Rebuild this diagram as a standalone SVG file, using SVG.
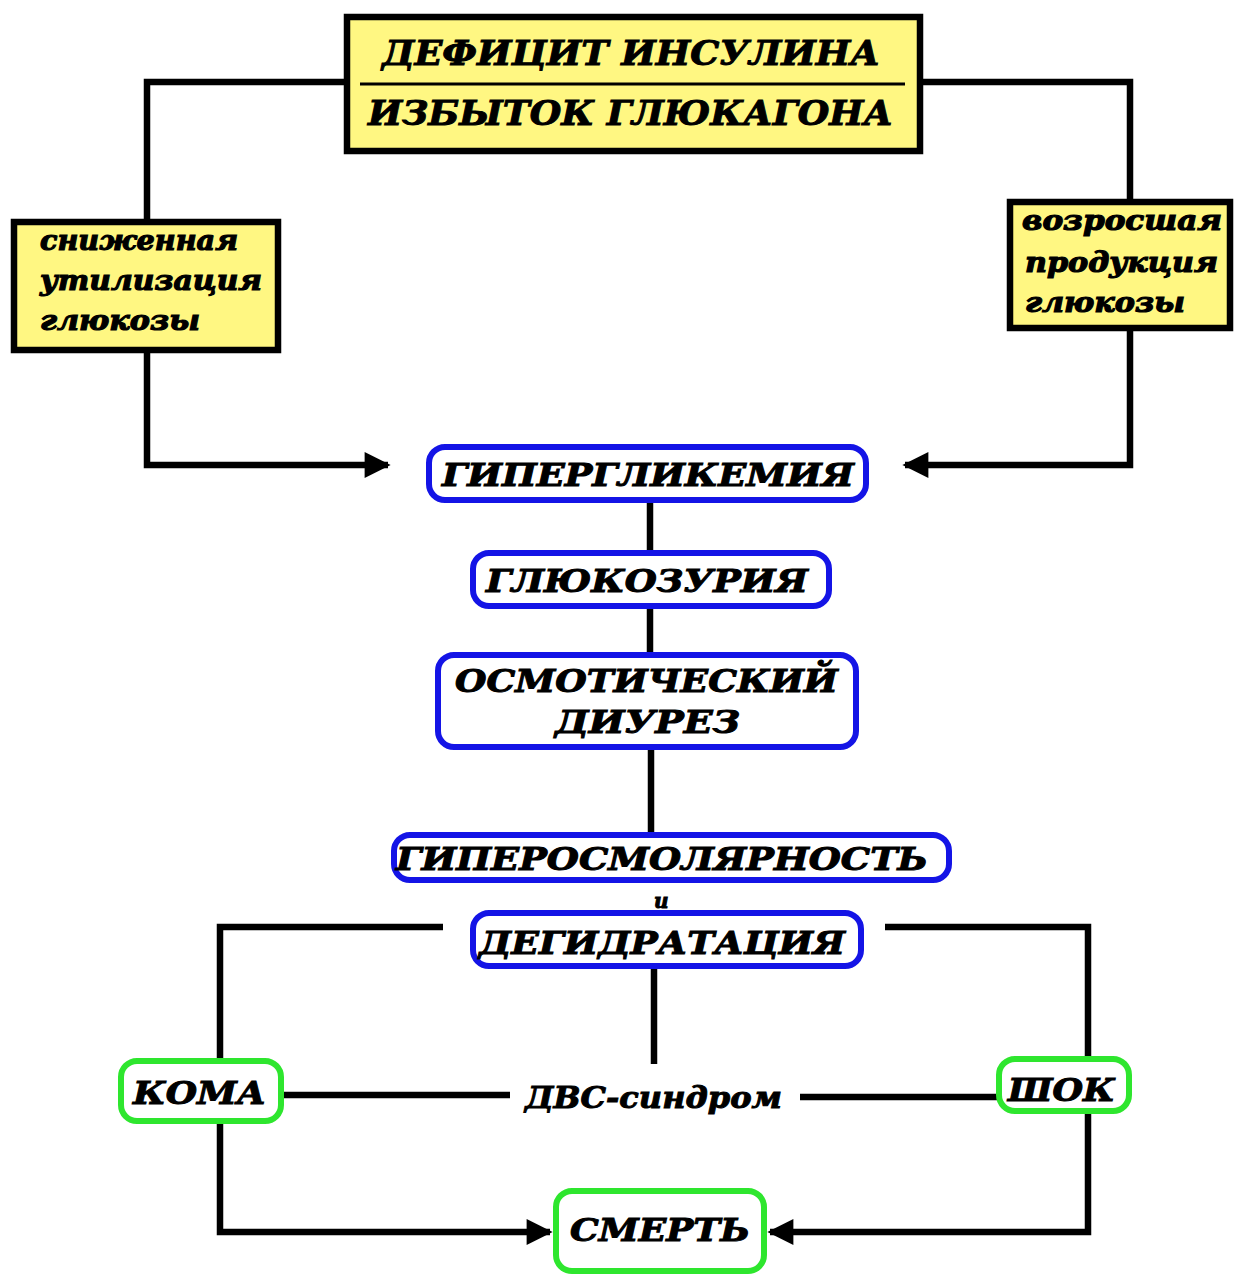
<svg xmlns="http://www.w3.org/2000/svg" width="1236" height="1275" viewBox="0 0 1236 1275">
  <style>
    .wire { fill: none; stroke: #000; stroke-width: 6.5; stroke-linejoin: miter; stroke-linecap: butt; }
    .ybox { fill: #FFF782; stroke: #000; stroke-width: 6.5; }
    .bbox { fill: #fff; stroke: #1414E6; stroke-width: 6; }
    .gbox { fill: #fff; stroke: #2EE62E; stroke-width: 6; }
    .cap { font-family: "DejaVu Serif", "Liberation Serif", serif; font-weight: bold; font-style: italic; fill: #000; stroke: #000; stroke-width: 1; }
    .low { font-family: "DejaVu Serif", "Liberation Serif", serif; font-weight: bold; font-style: italic; fill: #000; stroke: #000; stroke-width: 1.2; }
  </style>
  <defs>
    <marker id="head" viewBox="0 0 10 10" refX="9" refY="5" markerWidth="5" markerHeight="4" markerUnits="strokeWidth" orient="auto">
      <path d="M0,0 L10,5 L0,10 z" fill="#000"/>
    </marker>
  </defs>
  <rect width="1236" height="1275" fill="#fff"/>

  <!-- connectors -->
  <g id="connectors">
    <path class="wire" d="M348,82 H147 V222"/>
    <path class="wire" d="M919,82 H1130 V202"/>
    <path class="wire" d="M147,350 V465 H388" marker-end="url(#head)"/>
    <path class="wire" d="M1130,328 V465 H905" marker-end="url(#head)"/>
    <path class="wire" d="M650,500 V555"/>
    <path class="wire" d="M650,607 V655"/>
    <path class="wire" d="M651,747 V835"/>
    <path class="wire" d="M443,927 H220 V1232 H550" marker-end="url(#head)"/>
    <path class="wire" d="M885,927 H1088 V1232 H770" marker-end="url(#head)"/>
    <path class="wire" d="M654,967 V1064"/>
    <path class="wire" d="M282,1095 H510"/>
    <path class="wire" d="M800,1097 H1000"/>
  </g>

  <!-- top cause -->
  <g id="node-deficit">
    <rect class="ybox" x="347" y="17" width="573" height="134"/>
    <line x1="360" y1="84" x2="905" y2="84" stroke="#000" stroke-width="3"/>
    <text class="cap" x="382" y="65" font-size="34" textLength="498" lengthAdjust="spacingAndGlyphs">ДЕФИЦИТ ИНСУЛИНА</text>
    <text class="cap" x="368" y="125" font-size="34" textLength="525" lengthAdjust="spacingAndGlyphs">ИЗБЫТОК ГЛЮКАГОНА</text>
  </g>

  <g id="node-utilization">
    <rect class="ybox" x="14" y="222" width="264" height="128"/>
    <text class="low" x="40" y="250" font-size="28" textLength="198" lengthAdjust="spacingAndGlyphs">сниженная</text>
    <text class="low" x="40" y="290" font-size="28" textLength="222" lengthAdjust="spacingAndGlyphs">утилизация</text>
    <text class="low" x="40" y="330" font-size="28" textLength="160" lengthAdjust="spacingAndGlyphs">глюкозы</text>
  </g>

  <g id="node-production">
    <rect class="ybox" x="1010" y="202" width="220" height="126"/>
    <text class="low" x="1022" y="230" font-size="28" textLength="200" lengthAdjust="spacingAndGlyphs">возросшая</text>
    <text class="low" x="1025" y="272" font-size="28" textLength="193" lengthAdjust="spacingAndGlyphs">продукция</text>
    <text class="low" x="1025" y="312" font-size="28" textLength="160" lengthAdjust="spacingAndGlyphs">глюкозы</text>
  </g>

  <g id="node-hyperglycemia">
    <rect class="bbox" x="429" y="447" width="437" height="53" rx="16"/>
    <text class="cap" x="442" y="486" font-size="31" textLength="412" lengthAdjust="spacingAndGlyphs">ГИПЕРГЛИКЕМИЯ</text>
  </g>

  <g id="node-glucosuria">
    <rect class="bbox" x="473" y="553" width="356" height="53" rx="16"/>
    <text class="cap" x="486" y="592" font-size="31" textLength="322" lengthAdjust="spacingAndGlyphs">ГЛЮКОЗУРИЯ</text>
  </g>

  <g id="node-diuresis">
    <rect class="bbox" x="438" y="655" width="418" height="92" rx="16"/>
    <text class="cap" x="455" y="692" font-size="31" textLength="383" lengthAdjust="spacingAndGlyphs">ОСМОТИЧЕСКИЙ</text>
    <text class="cap" x="555" y="733" font-size="31" textLength="185" lengthAdjust="spacingAndGlyphs">ДИУРЕЗ</text>
  </g>

  <g id="node-hyperosmolarity">
    <rect class="bbox" x="394" y="835" width="555" height="45" rx="16"/>
    <text class="cap" x="396" y="870" font-size="31" textLength="532" lengthAdjust="spacingAndGlyphs">ГИПЕРОСМОЛЯРНОСТЬ</text>
    <text class="cap" x="654" y="908" font-size="20">и</text>
  </g>

  <g id="node-dehydration">
    <rect class="bbox" x="473" y="913" width="388" height="53" rx="16"/>
    <text class="cap" x="479" y="954" font-size="31" textLength="366" lengthAdjust="spacingAndGlyphs">ДЕГИДРАТАЦИЯ</text>
  </g>

  <g id="node-coma">
    <rect class="gbox" x="121" y="1061" width="160" height="60" rx="16"/>
    <text class="cap" x="133" y="1104" font-size="31" textLength="133" lengthAdjust="spacingAndGlyphs">КОМА</text>
  </g>

  <g id="node-dic">
    <text class="cap" x="525" y="1108" font-size="30" textLength="257" lengthAdjust="spacingAndGlyphs">ДВС-синдром</text>
  </g>

  <g id="node-shock">
    <rect class="gbox" x="999" y="1059" width="130" height="52" rx="16"/>
    <text class="cap" x="1008" y="1101" font-size="31" textLength="107" lengthAdjust="spacingAndGlyphs">ШОК</text>
  </g>

  <g id="node-death">
    <rect class="gbox" x="556" y="1191" width="208" height="80" rx="16"/>
    <text class="cap" x="570" y="1241" font-size="31" textLength="180" lengthAdjust="spacingAndGlyphs">СМЕРТЬ</text>
  </g>
</svg>
